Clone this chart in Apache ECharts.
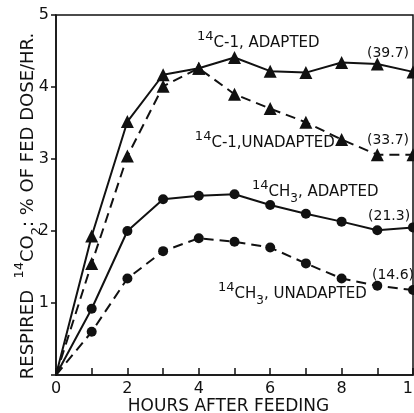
<!DOCTYPE html>
<html>
<head>
<meta charset="utf-8">
<script src="https://cdn.jsdelivr.net/npm/echarts@6/dist/echarts.min.js"></script>
<style>
  html, body { margin: 0; padding: 0; background: #fff; }
  #chart { width: 414px; height: 413px; }
</style>
</head>
<body>
<div id="chart"></div>
<script>
// Hours after feeding
const hours = [0, 1, 2, 3, 4, 5, 6, 7, 8, 9, 10];

// Respired 14CO2, % of fed dose per hour
const c1Adapted    = [0, 1.93, 3.52, 4.17, 4.26, 4.41, 4.22, 4.20, 4.34, 4.32, 4.21];
const c1Unadapted  = [0, 1.55, 3.04, 4.01, 4.26, 3.90, 3.70, 3.51, 3.27, 3.06, 3.06];
const ch3Adapted   = [0, 0.92, 2.00, 2.44, 2.49, 2.51, 2.36, 2.24, 2.13, 2.01, 2.05];
const ch3Unadapted = [0, 0.60, 1.34, 1.72, 1.90, 1.85, 1.77, 1.55, 1.34, 1.24, 1.18];

// Axis tick labels
const xTickLabels = [0, 2, 4, 6, 8, 10];
const yTickLabels = [1, 2, 3, 4, 5];

// Curve captions and cumulative totals (text, anchor hour, anchor value)
const noteText = [
  '{sup|14}{m|C-1, ADAPTED}',
  '{n|(39.7)}',
  '{sup|14}{m|C-1,UNADAPTED}',
  '{n|(33.7)}',
  '{sup|14}{m|CH}{sub|3}{m|, ADAPTED}',
  '{n|(21.3)}',
  '{sup|14}{m|CH}{sub|3}{m|, UNADAPTED}',
  '{n|(14.6)}'
];
const noteHour  = [3.95, 8.71, 3.89, 8.71, 5.49, 8.74, 4.54, 8.85];
const noteValue = [4.61, 4.47, 3.22, 3.26, 2.54, 2.21, 1.125, 1.39];

const INK = '#111111';
const FONT = 'DejaVu Sans';

function points(values) {
  return hours.map((h, i) => i === 0
    ? { value: [h, values[i]], symbol: 'none' }
    : [h, values[i]]);
}

function curve(name, values, symbol, size, dashed) {
  return {
    name: name,
    type: 'line',
    data: points(values),
    symbol: symbol,
    symbolSize: size,
    showAllSymbol: true,
    itemStyle: { color: INK },
    lineStyle: { color: INK, width: 2, type: dashed ? [10, 6] : 'solid' },
    animation: false,
    z: 3
  };
}

const chart = echarts.init(document.getElementById('chart'), null, { renderer: 'canvas' });

chart.setOption({
  backgroundColor: '#fff',
  animation: false,
  textStyle: { fontFamily: FONT, color: INK },
  grid: {
    left: 56, right: 1, top: 15, bottom: 38,
    outerBoundsMode: 'none',
    containLabel: false,
    show: true, borderColor: INK, borderWidth: 1.5, backgroundColor: 'transparent'
  },
  xAxis: {
    type: 'value',
    min: 0, max: 10, interval: 1,
    axisLine: { show: true, lineStyle: { color: INK, width: 1.5 } },
    axisTick: { show: true, inside: true, length: 7, lineStyle: { color: INK, width: 1.5 } },
    splitLine: { show: false },
    axisLabel: {
      margin: 6, fontSize: 16, fontFamily: FONT, color: INK,
      hideOverlap: false,
      formatter: v => xTickLabels.includes(v) ? String(v) : ''
    },
    name: 'HOURS AFTER FEEDING',
    nameLocation: 'middle',
    nameMoveOverlap: false,
    nameGap: 23,
    nameTextStyle: { fontSize: 17, fontFamily: FONT, color: INK, padding: [0, 12, 0, 0] }
  },
  yAxis: {
    type: 'value',
    min: 0, max: 5, interval: 1,
    axisLine: { show: true, lineStyle: { color: INK, width: 1.5 } },
    axisTick: { show: true, inside: false, length: 5, lineStyle: { color: INK, width: 1.5 } },
    splitLine: { show: false },
    axisLabel: {
      margin: 7, fontSize: 16, fontFamily: FONT, color: INK,
      formatter: v => yTickLabels.includes(v) ? String(v) : ''
    },
    name: '{t|RESPIRED  }{sup|14}{t|CO}{sub|2}{t|: % OF FED DOSE/HR.}',
    nameLocation: 'middle',
    nameRotate: 90,
    nameMoveOverlap: false,
    nameGap: 13,
    nameTextStyle: {
      fontFamily: FONT, color: INK,
      padding: [0, 22, 0, 0],
      rich: {
        t:   { fontSize: 18, lineHeight: 30, fontFamily: FONT, color: INK },
        sup: { fontSize: 13, lineHeight: 13, verticalAlign: 'top', fontFamily: FONT, color: INK },
        sub: { fontSize: 13, lineHeight: 16, verticalAlign: 'bottom', fontFamily: FONT, color: INK }
      }
    }
  },
  series: [
    curve('14C-1, adapted', c1Adapted, 'triangle', 13, false),
    curve('14C-1, unadapted', c1Unadapted, 'triangle', 13, true),
    curve('14CH3, adapted', ch3Adapted, 'circle', 10, false),
    curve('14CH3, unadapted', ch3Unadapted, 'circle', 10, true),
    {
      name: 'captions',
      type: 'scatter',
      silent: true,
      symbolSize: 0,
      animation: false,
      itemStyle: { opacity: 1, color: INK },
      z: 5,
      data: noteText.map((t, i) => ({ value: [noteHour[i], noteValue[i]], caption: t })),
      label: {
        show: true,
        position: 'right',
        distance: 0,
        color: INK,
        opacity: 1,
        fontFamily: FONT,
        formatter: p => p.data.caption,
        rich: {
          m:   { fontSize: 15, lineHeight: 26, fontFamily: FONT, color: INK },
          n:   { fontSize: 14, lineHeight: 26, fontFamily: FONT, color: INK },
          sup: { fontSize: 13, lineHeight: 13, verticalAlign: 'top', fontFamily: FONT, color: INK },
          sub: { fontSize: 12, lineHeight: 17, verticalAlign: 'bottom', fontFamily: FONT, color: INK }
        }
      },
      labelLayout: { hideOverlap: false }
    }
  ]
});
</script>
</body>
</html>
